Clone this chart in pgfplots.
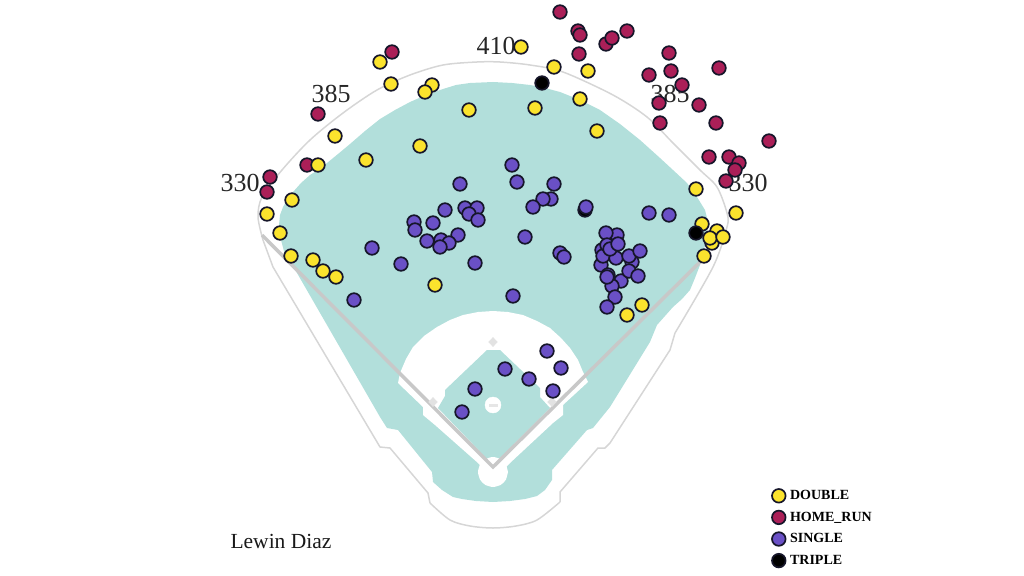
\documentclass[border=0pt]{standalone}
\usepackage{fontspec}
\setmainfont{Liberation Serif}
\usepackage{pgfplots}
\pgfplotsset{compat=1.18}
\definecolor{field}{HTML}{B2DFDB}
\definecolor{wall}{HTML}{D6D6D6}
\definecolor{foul}{HTML}{C8C8C8}
\definecolor{cdouble}{HTML}{FBE32D}
\definecolor{chr}{HTML}{AB1F58}
\definecolor{csingle}{HTML}{6A50C6}
\definecolor{edge}{HTML}{16162A}
\pgfplotsset{
  hit/.style={only marks, mark=*, mark size=6.8bp, mark options={draw=edge, line width=1.7bp, fill=#1}, forget plot},
  keyhit/.style={only marks, mark=*, mark size=6.8bp, mark options={draw=edge, line width=1.7bp, fill=#1}},
}
\begin{document}
\begin{tikzpicture}
\useasboundingbox (0,0) rectangle (1024bp,576bp);
\begin{axis}[
    at={(0,0)}, anchor=south west,
    scale only axis, width=1024bp, height=576bp,
    xmin=0, xmax=1024, ymin=0, ymax=576, y dir=reverse,
    hide axis,
    legend style={at={(axis cs:772,489)}, anchor=north west, draw=none, fill=none,
        font=\fontsize{14bp}{14.5bp}\selectfont\bfseries, row sep=8bp, inner sep=0pt, outer sep=0pt,
        nodes={inner ysep=1pt, inner xsep=1.5pt}},
    legend cell align=left,
]
% outfield grass
\addplot[fill=field, draw=none, forget plot] coordinates {
  (279,225) (280,215) (283,207) (287,200) (293,192) (301,183) (310,175) (318,170) (327,163)
  (338,154) (350,144) (365,131) (380,119) (395,110) (410,102) (426,95) (443,89) (456,85)
  (470,83) (493,82) (512,83) (530,85) (545,88) (560,92) (580,100) (600,110) (620,124)
  (640,140) (660,158) (673,170) (687,183) (697,197) (705,210) (708,222) (707,235) (704,250)
  (700,265) (695,278) (690,290) (682,299) (673,307) (657,325) (650,342) (610,407) (593,428)
  (587,430) (552,470) (552,480) (545,490) (537,496) (525,499) (510,501) (493,502) (476,501)
  (462,499) (453,497) (442,490) (433,482) (432,472) (398,430) (387,428) (380,417) (297,273)
  (290,262) (285,255) (281,240) (279,225)
};
% infield dirt cut
\addplot[fill=white, draw=none, forget plot] coordinates {
  (400,373) (406,359) (413,347) (424,336) (437,327) (450,320) (463,315) (478,312)
  (493,311) (508,312) (523,315) (537,321) (550,328) (561,338) (570,348) (578,360)
  (583,372) (588,382) (563,405) (563,415) (553,423) (510,463) (493,480) (478,463)
  (435,425) (423,415) (423,407) (398,383) (400,373)
};
\addplot[fill=field, draw=none, forget plot] coordinates {
  (487,350) (500,350) (540,388) (540,397) (550,408) (493,465) (438,408) (445,396)
  (445,390) (487,350)
};
% home circle as a path so the foul lines stay on top of it
\addplot[fill=white, draw=none, smooth, forget plot] coordinates {
  (508,472) (506,479.5) (503.6,482.6) (500.5,485) (493,487) (485.5,485) (482.4,482.6)
  (480,479.5) (478,472) (480,464.5) (482.4,461.4) (485.5,459) (493,457) (500.5,459)
  (503.6,461.4) (506,464.5) (508,472)
};
% mound, bases
\addplot[only marks, mark=*, mark size=8bp, mark options={draw=white, fill=white}, forget plot] coordinates {(493,405)};
\addplot[only marks, mark=square*, mark size=2.5bp, mark options={draw=wall!60, fill=wall!60, xscale=1.6, yscale=0.4}, forget plot] coordinates {(493,405)};
\addplot[only marks, mark=diamond*, mark size=4.5bp, mark options={draw=wall!70, fill=wall!70, xscale=1.3}, forget plot] coordinates {(493,342) (433,402) (552,402)};
% wall
\addplot[color=wall, line width=1.5bp, line join=round, smooth, tension=0.5, forget plot] coordinates {
  (263,240) (258,217) (262,197) (282,170) (310,140) (343,113) (377,90) (410,75) (443,65)
  (477,62) (500,62) (530,65) (563,72) (613,95) (647,117) (673,143) (700,170) (717,187) (727,213)
  (727,227) (713,267) (675,333)
};
\addplot[color=wall, line width=1.5bp, line join=round, forget plot] coordinates {
  (263,240) (273,267) (380,447) (390,448) (428,493) (430,503)
};
\addplot[color=wall, line width=1.5bp, line join=round, forget plot] coordinates {
  (675,333) (670,350) (610,443) (605,448) (598,448) (560,492) (560,502)
};
\addplot[color=wall, line width=1.5bp, smooth, tension=0.5, forget plot] coordinates {
  (430,503) (450,520) (470,526) (493,528) (516,526) (537,520) (560,502)
};
% foul lines
\addplot[color=foul, line width=3.5bp, line join=miter, forget plot] coordinates {
  (262,235) (493,467) (700,262)
};
% distance labels
\node[text=black!85, font=\fontsize{26bp}{26bp}\selectfont] at (axis cs:240,183) {330};
\node[text=black!85, font=\fontsize{26bp}{26bp}\selectfont] at (axis cs:331,94) {385};
\node[text=black!85, font=\fontsize{26bp}{26bp}\selectfont] at (axis cs:496,46) {410};
\node[text=black!85, font=\fontsize{26bp}{26bp}\selectfont] at (axis cs:670,94) {385};
\node[text=black!85, font=\fontsize{26bp}{26bp}\selectfont] at (axis cs:748,183) {330};
\node[text=black!90, font=\fontsize{21.5bp}{21.5bp}\selectfont] at (axis cs:281,541) {Lewin Diaz};
% legend keys
\addlegendimage{keyhit=cdouble}\addlegendentry{\hspace*{3bp}DOUBLE}
\addlegendimage{keyhit=chr}\addlegendentry{\hspace*{3bp}HOME\_RUN}
\addlegendimage{keyhit=csingle}\addlegendentry{\hspace*{3bp}SINGLE}
\addlegendimage{keyhit=black}\addlegendentry{\hspace*{3bp}TRIPLE}
% HOME_RUN
\addplot[hit=chr] coordinates {
  (560,12) (578,31) (580,35) (579,54) (606,44) (612,38) (627,31) (669,53) (671,71)
  (649,75) (719,68) (682,85) (659,103) (699,105) (660,123) (716,123) (769,141) (709,157)
  (729,157) (739,163) (735,170) (726,181) (392,52) (318,114) (307,165) (270,177) (267,192)
};
% DOUBLE
\addplot[hit=cdouble] coordinates {
  (380,62) (391,84) (432,85) (425,92) (469,110) (335,136) (420,146) (366,160) (318,165)
  (521,47) (554,67) (588,71) (580,99) (535,108) (597,131) (292,200) (267,214) (280,233)
  (291,256) (313,260) (323,271) (336,277) (435,285) (696,189) (736,213) (702,224) (717,231)
  (712,243) (710,238) (723,237) (704,256) (642,305) (627,315)
};
% TRIPLE
\addplot[hit=black] coordinates {(542,83) (696,233) (585,210)};
% SINGLE
\addplot[hit=csingle] coordinates {
  (460,184) (445,210) (465,208) (477,208) (469,214) (478,220) (414,222) (415,230) (433,223)
  (458,235) (427,241) (441,240) (449,243) (440,247) (372,248) (401,264) (475,263) (354,300)
  (512,165) (517,182) (554,184) (551,199) (543,199) (533,207) (586,207) (649,213) (669,215)
  (525,237) (560,253) (564,257) (513,296)
  (601,265) (602,250) (603,256) (632,262) (616,258) (617,235) (606,233) (607,245) (610,249)
  (618,244) (629,256) (640,251) (621,281) (612,286) (608,275) (607,277) (629,271) (638,276)
  (615,297) (607,307)
  (547,351) (561,368) (505,369) (529,379) (553,391) (475,389) (462,412)
};
\end{axis}
\end{tikzpicture}
\end{document}
